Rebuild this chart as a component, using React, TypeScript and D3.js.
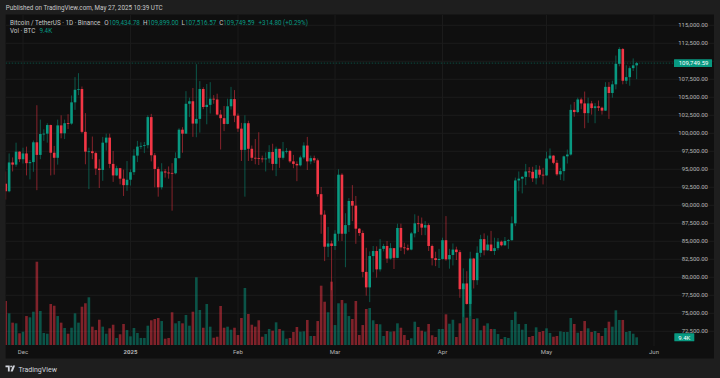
import React from 'react';
import * as d3 from 'd3';

const W = 720;
const H = 378;

const startDay = '2024-11-26';

const opens = [93.00,91.95,95.95,95.65,97.45,96.40,97.20,95.85,96.00,98.75,97.00,99.90,99.95,101.15,97.30,96.60,101.10,100.00,101.40,101.35,104.30,106.05,106.15,100.20,97.45,97.50,97.25,95.10,94.90,98.70,99.40,95.75,94.15,95.15,93.70,92.80,93.55,94.60,96.90,98.15,98.25,98.35,102.25,96.95,95.05,92.50,94.70,94.55,94.50,94.45,96.55,100.50,99.95,104.10,104.45,101.35,102.00,106.15,103.65,103.95,104.80,104.70,102.60,102.10,101.30,103.75,104.75,102.45,100.65,97.70,101.40,97.85,96.60,96.55,96.50,96.45,96.50,97.40,95.75,97.85,96.60,97.50,97.55,96.10,95.75,95.55,96.65,98.30,96.10,96.55,96.25,91.55,88.70,84.25,84.70,84.35,86.05,94.25,86.05,87.25,90.60,89.95,86.75,86.15,80.75,78.60,82.95,83.65,81.10,83.95,84.35,82.60,84.05,82.70,86.85,84.15,84.05,83.85,86.10,87.50,87.45,86.90,87.25,84.35,82.65,82.40,82.55,85.15,82.50,83.10,83.85,83.50,78.35,79.15,76.30,82.60,79.60,83.40,85.30,83.75,84.55,83.65,84.05,84.95,84.45,85.05,85.15,87.50,93.45,93.70,93.95,94.70,94.65,93.75,94.95,94.25,94.15,96.50,96.90,95.90,94.30,94.75,96.80,97.05,103.25,102.95,104.70,104.15,102.80,104.15,103.50,103.75,103.55,103.15,106.45,105.60,106.80,109.65,111.70,107.30,107.80,109.05,109.435];

const highs = [94.70,97.20,96.65,98.70,97.50,98.00,98.15,96.30,99.00,103.90,101.90,100.55,101.40,101.20,98.25,101.90,102.50,101.90,102.65,105.25,107.80,108.35,106.50,102.80,98.00,99.55,97.45,96.40,99.50,99.95,99.95,97.55,95.50,95.20,94.95,96.15,95.00,97.80,98.95,98.75,98.80,102.50,102.70,97.25,95.35,95.85,95.05,95.40,95.85,97.35,100.70,100.85,105.85,104.95,106.30,109.60,107.25,106.40,106.85,107.10,105.30,105.50,103.25,103.80,104.80,106.45,106.00,102.75,101.45,102.50,101.75,98.30,99.20,100.15,96.90,97.35,98.35,98.55,98.15,97.20,98.80,97.95,97.70,97.00,96.10,96.90,98.75,99.50,96.90,96.90,96.50,92.55,89.30,87.00,85.10,86.55,95.00,94.45,88.90,91.00,92.80,91.30,86.85,86.50,84.10,83.60,84.35,84.30,85.30,84.65,85.05,84.75,84.05,87.45,87.45,84.80,84.55,86.30,88.75,88.55,88.30,87.80,87.50,84.55,83.55,83.95,85.50,88.50,83.95,84.70,84.25,83.80,81.25,80.85,83.55,82.70,84.30,85.90,86.10,85.80,86.45,85.50,85.45,85.10,85.60,85.30,88.45,93.85,94.70,94.05,95.75,95.30,95.35,95.60,95.50,95.20,97.45,97.90,96.95,96.30,95.20,96.90,97.75,104.00,104.35,104.95,104.95,105.80,104.95,104.50,104.20,104.55,103.70,107.10,107.10,107.30,110.80,111.95,111.85,109.45,109.30,110.40,109.899];

const lows = [90.80,91.80,94.70,95.35,96.00,95.80,94.15,93.60,94.65,92.10,96.40,98.95,98.70,94.15,94.25,95.65,99.30,99.20,100.60,101.20,103.25,105.30,100.00,95.70,92.25,96.40,94.20,92.40,93.40,97.60,95.15,93.25,94.05,92.90,91.30,92.00,92.75,94.20,96.00,97.80,97.25,97.90,96.10,92.50,91.20,92.20,93.85,93.70,89.25,94.30,96.50,97.30,99.95,102.25,99.50,99.45,100.10,103.35,101.25,102.75,104.10,102.50,97.75,100.30,101.25,103.30,101.55,100.20,96.15,91.20,96.15,96.15,95.70,95.60,95.95,94.70,95.90,94.85,94.05,95.20,96.35,97.20,95.90,95.15,93.35,95.40,96.40,94.90,95.70,95.90,91.20,86.05,82.25,82.80,78.20,83.80,85.05,85.05,81.40,86.30,87.80,84.65,85.75,80.00,77.45,76.55,80.70,79.95,80.80,83.60,82.00,82.45,81.15,82.65,83.65,83.20,83.65,83.75,85.55,86.30,85.85,85.85,83.65,81.65,81.55,81.30,82.45,82.30,81.20,81.65,82.40,77.15,74.50,76.20,74.60,78.45,78.95,82.80,83.05,83.70,83.60,83.10,83.75,84.30,84.35,83.95,85.10,87.10,91.95,91.65,92.80,93.90,93.25,92.90,93.85,92.90,94.10,96.35,95.70,94.10,93.50,93.40,95.80,96.90,102.30,102.80,103.35,100.70,101.45,102.60,101.40,103.10,102.60,103.10,102.00,104.95,106.10,109.30,106.80,106.85,106.60,108.65,107.517];

const closes = [91.95,95.95,95.65,97.45,96.40,97.20,95.85,96.00,98.75,97.00,99.90,99.95,101.15,97.30,96.60,101.10,100.00,101.40,101.35,104.30,106.05,106.15,100.20,97.45,97.50,97.25,95.10,94.90,98.70,99.40,95.75,94.15,95.15,93.70,92.80,93.55,94.60,96.90,98.15,98.25,98.35,102.25,96.95,95.05,92.50,94.70,94.55,94.50,94.45,96.55,100.50,99.95,104.10,104.45,101.35,102.00,106.15,103.65,103.95,104.80,104.70,102.60,102.10,101.30,103.75,104.75,102.45,100.65,97.70,101.40,97.85,96.60,96.55,96.50,96.45,96.50,97.40,95.75,97.85,96.60,97.50,97.55,96.10,95.75,95.55,96.65,98.30,96.10,96.55,96.25,91.55,88.70,84.25,84.70,84.35,86.05,94.25,86.05,87.25,90.60,89.95,86.75,86.15,80.75,78.60,82.95,83.65,81.10,83.95,84.35,82.60,84.05,82.70,86.85,84.15,84.05,83.85,86.10,87.50,87.45,86.90,87.25,84.35,82.65,82.40,82.55,85.15,82.50,83.10,83.85,83.50,78.35,79.15,76.30,82.60,79.60,83.40,85.30,83.75,84.55,83.65,84.05,84.95,84.45,85.05,85.15,87.50,93.45,93.70,93.95,94.70,94.65,93.75,94.95,94.25,94.15,96.50,96.90,95.90,94.30,94.75,96.80,97.05,103.25,102.95,104.70,104.15,102.80,104.15,103.50,103.75,103.55,103.15,106.45,105.60,106.80,109.65,111.70,107.30,107.80,109.05,109.435,109.74959];

// volume in thousands of BTC
const volumes = [53.8,38.7,27.3,26.5,14.3,16.3,35.4,33.8,40.7,101.8,41.6,14.7,13.8,50.1,48.0,35.4,27.3,20.8,13.8,21.1,38.7,27.3,46.8,51.0,58.3,22.4,18.3,30.9,22.4,13.8,20.4,24.8,8.6,13.1,25.7,18.3,10.6,20.8,14.7,8.6,8.6,23.6,30.2,31.8,33.0,29.3,7.7,8.6,40.0,26.5,29.3,26.5,36.7,23.6,40.7,82.7,42.8,21.1,50.1,22.4,8.9,10.1,47.7,21.1,22.4,18.7,21.1,12.2,33.0,69.7,37.9,24.8,22.4,30.2,10.1,13.4,19.6,17.5,27.7,19.6,17.5,7.7,8.6,15.9,22.0,16.3,16.7,30.6,11.0,11.0,29.3,72.5,52.9,40.0,77.4,24.4,51.0,55.0,51.0,35.4,31.8,53.8,12.2,24.4,44.0,45.2,30.2,25.7,25.3,11.0,17.1,16.3,16.7,26.5,21.1,12.2,6.1,8.2,28.5,22.0,17.5,16.3,25.7,11.9,9.8,19.6,19.6,37.5,26.0,30.9,9.8,26.5,74.2,33.4,67.2,31.8,32.6,18.0,23.6,26.5,19.6,19.6,13.4,7.3,9.8,8.6,30.6,40.7,25.7,18.7,25.7,9.8,11.0,21.6,15.9,17.1,20.4,14.7,10.1,11.0,16.7,15.9,15.9,33.0,25.7,15.0,17.1,29.3,20.4,15.9,17.1,14.7,11.0,20.8,28.5,22.4,42.4,30.6,30.6,15.9,17.1,13.8,9.4];

// 110,000 sits under the last-price badge, so its label is hidden
const priceTicks = [115000,112500,110000,107500,105000,102500,100000,97500,95000,92500,90000,87500,85000,82500,80000,77500,75000,72500];
const hiddenTickLabels = [110000];
const monthTicks = [
  { date: '2024-12-01', label: 'Dec', bold: false },
  { date: '2025-01-01', label: '2025', bold: true },
  { date: '2025-02-01', label: 'Feb', bold: false },
  { date: '2025-03-01', label: 'Mar', bold: false },
  { date: '2025-04-01', label: 'Apr', bold: false },
  { date: '2025-05-01', label: 'May', bold: false },
  { date: '2025-06-01', label: 'Jun', bold: false },
];

const UP = '#089981';
const DOWN = '#f23645';
const UPV = 'rgba(8,153,129,0.5)';
const DOWNV = 'rgba(242,54,69,0.5)';
const FONT = 'Roboto, "Liberation Sans", Arial, sans-serif';

export default function App() {
  const parse = d3.utcParse('%Y-%m-%d');
  const start = parse(startDay) as Date;
  const x = d3.scaleUtc()
    .domain([start, parse('2025-06-01') as Date])
    .range([5.67, 654]);
  const y = d3.scaleLinear().domain([72500, 115000]).range([331.3, 25.3]);
  const yv = d3.scaleLinear().domain([0, 110]).range([345, 255]);
  const fmt = d3.format(',.2f');

  const data = closes.map((c, i) => ({
    d: d3.utcDay.offset(start, i),
    o: opens[i] * 1000, h: highs[i] * 1000, l: lows[i] * 1000, c: c * 1000,
    v: volumes[i],
  }));
  const last = data[data.length - 1];
  const bw = 2.6;

  return (
    <svg width={W} height={H} style={{ position: 'fixed', left: 0, top: 0, display: 'block' }} fontFamily={FONT}>
      <rect x={0} y={0} width={W} height={H} fill="#1e1e1e" />
      <text x={5.7} y={10} fontSize={6.3} fill="#c8c8c8">Published on TradingView.com, May 27, 2025 10:39 UTC</text>
      <rect x={5.7} y={14.5} width={708.3} height={344} fill="#0f0f0f" />
      <clipPath id="plot"><rect x={5.7} y={14.5} width={708.3} height={344} /></clipPath>
      <g clipPath="url(#plot)">
        {priceTicks.map(t => (
          <line key={t} x1={5.7} x2={714} y1={y(t)} y2={y(t)} stroke="#1b1b1b" strokeWidth={1} />
        ))}
        {monthTicks.map(m => {
          const xx = x(parse(m.date) as Date);
          return <line key={m.date} x1={xx} x2={xx} y1={14.5} y2={346} stroke="#1b1b1b" strokeWidth={1} />;
        })}
        {data.map((d, i) => {
          const xx = x(d.d);
          const up = d.c >= d.o;
          return (
            <rect key={'v' + i} x={xx - bw / 2} y={yv(d.v)} width={bw} height={yv(0) - yv(d.v)} fill={up ? UPV : DOWNV} />
          );
        })}
        <line x1={5.7} x2={674} y1={y(last.c)} y2={y(last.c)} stroke="rgba(8,153,129,0.55)" strokeWidth={0.8} strokeDasharray="1.5 1.5" />
        {data.map((d, i) => {
          const xx = x(d.d);
          const up = d.c >= d.o;
          const col = up ? UP : DOWN;
          const top = y(Math.max(d.o, d.c));
          const bot = y(Math.min(d.o, d.c));
          return (
            <g key={'c' + i}>
              <line x1={xx} x2={xx} y1={y(d.h)} y2={y(d.l)} stroke={col} strokeWidth={0.7} strokeOpacity={0.75} />
              <rect x={xx - bw / 2} y={top} width={bw} height={Math.max(0.8, bot - top)} fill={col} />
            </g>
          );
        })}
        {priceTicks.filter(t => !hiddenTickLabels.includes(t)).map(t => (
          <text key={'t' + t} x={708} y={y(t) + 2.1} fontSize={6} fill="#b4b4b4" textAnchor="end">{fmt(t)}</text>
        ))}
        <rect x={674} y={y(last.c) - 3.8} width={38} height={7.6} fill={UP} rx={0.5} />
        <text x={708.5} y={y(last.c) + 2.1} fontSize={6} fill="#ffffff" textAnchor="end">{fmt(last.c)}</text>
        <rect x={674.3} y={333.3} width={20} height={8} fill={UP} rx={0.5} />
        <text x={684.3} y={339.5} fontSize={6} fill="#ffffff" textAnchor="middle">{(last.v).toFixed(1)}K</text>
        {monthTicks.map(m => (
          <text key={'m' + m.date} x={x(parse(m.date) as Date)} y={354.3} fontSize={6} fill="#b4b4b4" textAnchor="middle" fontWeight={m.bold ? 700 : 400}>{m.label}</text>
        ))}
        <text x={10} y={24.7} fontSize={6.3} fill="#c8c8c8">
          <tspan>Bitcoin / TetherUS · 1D · Binance</tspan>
          <tspan dx={4} fill="#c8c8c8">O</tspan><tspan fill={UP}>109,434.78</tspan>
          <tspan dx={3} fill="#c8c8c8">H</tspan><tspan fill={UP}>109,899.00</tspan>
          <tspan dx={3} fill="#c8c8c8">L</tspan><tspan fill={UP}>107,516.57</tspan>
          <tspan dx={3} fill="#c8c8c8">C</tspan><tspan fill={UP}>109,749.59</tspan>
          <tspan dx={4} fill={UP}>+314.80 (+0.29%)</tspan>
        </text>
        <text x={10} y={33.2} fontSize={6.3} fill="#c8c8c8">
          <tspan>Vol · BTC</tspan>
          <tspan dx={4} fill={UP}>{last.v.toFixed(1)}K</tspan>
        </text>
      </g>
      <g transform="translate(5.5,365.5)" fill="#d1d4dc">
        <path d="M0 0 H4.2 V6 H2.4 V1.8 H0 Z" />
        <circle cx={5.6} cy={0.9} r={0.9} />
        <path d="M7.4 0 H9.6 L7.2 6 H5 Z" />
      </g>
      <text x={18.4} y={371.6} fontSize={7} fill="#d1d4dc">TradingView</text>
    </svg>
  );
}
